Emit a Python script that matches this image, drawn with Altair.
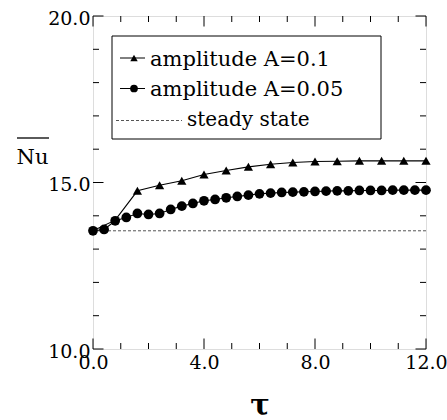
import altair as alt
import pandas as pd

# ---- data ----
tau_a1 = [0.0, 0.8, 1.6, 2.4, 3.2, 4.0, 4.8, 5.6, 6.4, 7.2, 8.0, 8.8, 9.6, 10.4, 11.2, 12.0]
nu_a1 = [13.55, 13.87, 14.75, 14.92, 15.05, 15.24, 15.36, 15.47, 15.55, 15.60, 15.63, 15.64, 15.65, 15.65, 15.65, 15.65]

tau_a05 = [0.0, 0.4, 0.8, 1.2, 1.6, 2.0, 2.4, 2.8, 3.2, 3.6, 4.0, 4.4, 4.8, 5.2, 5.6, 6.0,
           6.4, 6.8, 7.2, 7.6, 8.0, 8.4, 8.8, 9.2, 9.6, 10.0, 10.4, 10.8, 11.2, 11.6, 12.0]
nu_a05 = [13.55, 13.59, 13.85, 13.95, 14.07, 14.04, 14.07, 14.19, 14.29, 14.37, 14.45, 14.49, 14.54, 14.58,
          14.62, 14.66, 14.68, 14.70, 14.71, 14.72, 14.73, 14.74, 14.75, 14.75, 14.76, 14.76, 14.76, 14.77,
          14.77, 14.77, 14.77]

steady_nu = 13.55
tau_range = [0.0, 12.0]

x_major = [0, 4, 8, 12]
x_minor = [1, 2, 3, 5, 6, 7, 9, 10, 11]
y_major = [10, 15, 20]
y_minor = [11, 12, 13, 14, 16, 17, 18, 19]

legend_labels = ["amplitude A=0.1", "amplitude A=0.05", "steady state"]

# ---- styling ----
W, H = 333, 333
SERIF = "DejaVu Serif"

xscale = alt.Scale(domain=[0, 12], nice=False, zero=False)
yscale = alt.Scale(domain=[10, 20], nice=False, zero=False)
xaxis = alt.Axis(values=x_major, format=".1f", ticks=False, domain=False, grid=False,
                 labelFont=SERIF, labelFontSize=19, labelColor="black", labelPadding=4,
                 title="τ", titleFont=SERIF, titleFontSize=29, titleFontWeight="bold",
                 titleColor="black", titleX=W / 2, titleY=65, titleBaseline="alphabetic",
                 labelFlush=False)
yaxis = alt.Axis(values=y_major, format=".1f", ticks=False, domain=False, grid=False,
                 labelFont=SERIF, labelFontSize=19, labelColor="black", labelPadding=3,
                 labelOffset=2, labelFlush=False,
                 title="Nu", titleFont=SERIF, titleFontSize=21, titleFontWeight="normal",
                 titleColor="black", titleAngle=0, titleX=-61, titleY=147,
                 titleAlign="center", titleBaseline="alphabetic")


def X(f):
    return alt.X(f"{f}:Q", scale=xscale, axis=xaxis)


def Y(f):
    return alt.Y(f"{f}:Q", scale=yscale, axis=yaxis)


df = pd.concat([
    pd.DataFrame({"series": legend_labels[0], "tau": tau_a1, "nu": nu_a1}),
    pd.DataFrame({"series": legend_labels[1], "tau": tau_a05, "nu": nu_a05}),
])

lines = alt.Chart(df).mark_line(color="black", strokeWidth=1.1).encode(
    x=X("tau"), y=Y("nu"), detail="series:N")

tri = alt.Chart(pd.DataFrame({"tau": tau_a1, "nu": nu_a1})).transform_filter(
    "datum.tau >= 1.6").mark_point(shape="triangle-up", filled=True, color="black",
                                   size=85, opacity=1).encode(x=X("tau"), y=Y("nu"))

circ = alt.Chart(pd.DataFrame({"tau": tau_a05, "nu": nu_a05})).mark_point(
    shape="circle", filled=True, color="black", size=95, opacity=1).encode(
    x=X("tau"), y=Y("nu"))

steady = alt.Chart(pd.DataFrame({"a": [tau_range[0]], "b": [tau_range[1]], "nu": [steady_nu]})).mark_rule(
    color="#555", strokeWidth=1, strokeDash=[3, 2]).encode(x=X("a"), x2="b", y=Y("nu"))


# inward ticks on all four sides
def xticks(vals, length):
    d = pd.DataFrame({"v": vals})
    bot = alt.Chart(d).mark_rule(color="black", strokeWidth=1).encode(
        x=X("v"), y=alt.value(H), y2=alt.value(H - length))
    top = alt.Chart(d).mark_rule(color="black", strokeWidth=1).encode(
        x=X("v"), y=alt.value(0), y2=alt.value(length))
    return [bot, top]


def yticks(vals, length):
    d = pd.DataFrame({"v": vals})
    left = alt.Chart(d).mark_rule(color="black", strokeWidth=1).encode(
        y=Y("v"), x=alt.value(0), x2=alt.value(length))
    right = alt.Chart(d).mark_rule(color="black", strokeWidth=1).encode(
        y=Y("v"), x=alt.value(W), x2=alt.value(W - length))
    return [left, right]


ticks = xticks(x_major, 10.5) + xticks(x_minor, 6) + yticks(y_major, 10.5) + yticks(y_minor, 6)

one = pd.DataFrame({"k": [0]})

# overline on the Nu title
overline = alt.Chart(one).mark_rule(color="black", strokeWidth=1.3).encode(
    x=alt.value(-76), x2=alt.value(-44), y=alt.value(122))

# legend box
box = alt.Chart(one).mark_rect(fill="white", stroke="black", strokeWidth=1).encode(
    x=alt.value(19), x2=alt.value(288), y=alt.value(20), y2=alt.value(123))

leg_r1 = alt.Chart(one).mark_rule(color="black", strokeWidth=1).encode(
    x=alt.value(27), x2=alt.value(52), y=alt.value(42))
leg_p1 = alt.Chart(one).mark_point(shape="triangle-up", filled=True, color="black", size=55,
                                   opacity=1).encode(x=alt.value(41), y=alt.value(42))
leg_r2 = alt.Chart(one).mark_rule(color="black", strokeWidth=1).encode(
    x=alt.value(27), x2=alt.value(52), y=alt.value(72.5))
leg_p2 = alt.Chart(one).mark_point(shape="circle", filled=True, color="black", size=60,
                                   opacity=1).encode(x=alt.value(41), y=alt.value(72.5))
leg_r3 = alt.Chart(one).mark_rule(color="#555", strokeWidth=1, strokeDash=[3, 2]).encode(
    x=alt.value(23), x2=alt.value(89), y=alt.value(104.5))

leg_txt = [
    alt.Chart(pd.DataFrame({"t": [legend_labels[0]]})).mark_text(
        font=SERIF, fontSize=21, align="left", baseline="alphabetic", color="black").encode(
        text="t:N", x=alt.value(57), y=alt.value(49.5)),
    alt.Chart(pd.DataFrame({"t": [legend_labels[1]]})).mark_text(
        font=SERIF, fontSize=21, align="left", baseline="alphabetic", color="black").encode(
        text="t:N", x=alt.value(57), y=alt.value(80)),
    alt.Chart(pd.DataFrame({"t": [legend_labels[2]]})).mark_text(
        font=SERIF, fontSize=20, align="left", baseline="alphabetic", color="black").encode(
        text="t:N", x=alt.value(94), y=alt.value(110)),
]

chart = alt.layer(
    steady, lines, tri, circ, *ticks, overline,
    box, leg_r1, leg_p1, leg_r2, leg_p2, leg_r3, *leg_txt
).properties(
    width=W, height=H,
    autosize=alt.AutoSizeParams(type="none"),
    padding={"left": 93, "top": 16, "right": 21, "bottom": 71},
).configure_view(
    stroke="black", strokeWidth=1.2
).configure(background="white", font=SERIF)

chart.save("out.html", embed_options={"renderer": "svg", "actions": False})
